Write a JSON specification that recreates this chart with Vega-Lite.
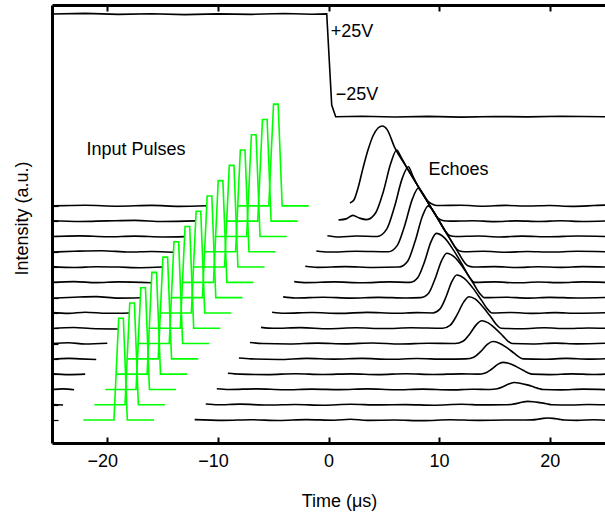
{
  "$schema": "https://vega.github.io/schema/vega-lite/v6.json",
  "width": 553,
  "height": 438,
  "autosize": "none",
  "padding": {"left": 52, "top": 5, "right": 0, "bottom": 70},
  "config": {"view": {"stroke": null}, "font": "Liberation Sans"},
  "datasets": {
    "volt": [
      {"x": -25, "y": 27.54}, {"x": -22, "y": 27.58}, {"x": -19, "y": 27.52}, {"x": -16, "y": 27.56}, {"x": -13, "y": 27.5},
      {"x": -10, "y": 27.55}, {"x": -7, "y": 27.52}, {"x": -4, "y": 27.57}, {"x": -1.5, "y": 27.53}, {"x": -0.16, "y": 27.55},
      {"x": 0.29, "y": 21.59}, {"x": 0.65, "y": 20.83}, {"x": 3, "y": 20.86}, {"x": 6, "y": 20.81}, {"x": 9, "y": 20.85},
      {"x": 12, "y": 20.8}, {"x": 15, "y": 20.84}, {"x": 18, "y": 20.82}, {"x": 21, "y": 20.86}, {"x": 25, "y": 20.83}
    ],
    "black": [
      {"s": "L2", "x": -25, "y": 2.02}, {"s": "L2", "x": -24, "y": 1.98},
      {"s": "L3", "x": -25, "y": 3.0}, {"s": "L3", "x": -24, "y": 3.04}, {"s": "L3", "x": -23, "y": 2.98},
      {"s": "L4", "x": -25, "y": 4.02}, {"s": "L4", "x": -23.5, "y": 3.97}, {"s": "L4", "x": -22, "y": 4.0},
      {"s": "L5", "x": -25, "y": 4.97}, {"s": "L5", "x": -23.5, "y": 5.03}, {"s": "L5", "x": -22.5, "y": 5.0}, {"s": "L5", "x": -21, "y": 4.96},
      {"s": "L6", "x": -25, "y": 6.0}, {"s": "L6", "x": -23.5, "y": 6.05}, {"s": "L6", "x": -22, "y": 5.97}, {"s": "L6", "x": -20, "y": 6.02},
      {"s": "L7", "x": -25, "y": 6.98}, {"s": "L7", "x": -23, "y": 7.05}, {"s": "L7", "x": -21.5, "y": 6.98}, {"s": "L7", "x": -19, "y": 6.95},
      {"s": "L8", "x": -25, "y": 8.02}, {"s": "L8", "x": -23.5, "y": 7.97}, {"s": "L8", "x": -22, "y": 8.05}, {"s": "L8", "x": -20, "y": 7.98}, {"s": "L8", "x": -18, "y": 8.0},
      {"s": "L9", "x": -25, "y": 8.97}, {"s": "L9", "x": -23, "y": 9.03}, {"s": "L9", "x": -21, "y": 9.07}, {"s": "L9", "x": -19, "y": 8.97}, {"s": "L9", "x": -17, "y": 8.99},
      {"s": "L10", "x": -25, "y": 10.0}, {"s": "L10", "x": -23, "y": 10.05}, {"s": "L10", "x": -21, "y": 9.98}, {"s": "L10", "x": -19, "y": 10.03}, {"s": "L10", "x": -16, "y": 9.97},
      {"s": "L11", "x": -25, "y": 11.03}, {"s": "L11", "x": -23, "y": 10.97}, {"s": "L11", "x": -21, "y": 11.02}, {"s": "L11", "x": -19, "y": 11.0}, {"s": "L11", "x": -17, "y": 10.96}, {"s": "L11", "x": -15, "y": 11.0},
      {"s": "L12", "x": -25, "y": 11.98}, {"s": "L12", "x": -23, "y": 12.03}, {"s": "L12", "x": -20.5, "y": 12.07}, {"s": "L12", "x": -18, "y": 11.98}, {"s": "L12", "x": -16, "y": 12.02}, {"s": "L12", "x": -14, "y": 11.97},
      {"s": "L13", "x": -25, "y": 13.0}, {"s": "L13", "x": -22.5, "y": 13.04}, {"s": "L13", "x": -20, "y": 12.98}, {"s": "L13", "x": -17.5, "y": 13.02}, {"s": "L13", "x": -15, "y": 12.97}, {"s": "L13", "x": -13, "y": 12.99},
      {"s": "L14", "x": -25, "y": 14.03}, {"s": "L14", "x": -22.5, "y": 13.98}, {"s": "L14", "x": -20, "y": 14.02}, {"s": "L14", "x": -17.5, "y": 14.05}, {"s": "L14", "x": -15, "y": 13.98}, {"s": "L14", "x": -12, "y": 14.02},
      {"s": "L15", "x": -25, "y": 15.0}, {"s": "L15", "x": -22, "y": 15.04}, {"s": "L15", "x": -19, "y": 14.98}, {"s": "L15", "x": -16, "y": 15.03}, {"s": "L15", "x": -13.5, "y": 14.97}, {"s": "L15", "x": -11, "y": 15.01},

      {"s": "R1", "x": -12.1, "y": 1.03}, {"s": "R1", "x": -9.5, "y": 0.98}, {"s": "R1", "x": -7, "y": 1.02}, {"s": "R1", "x": -4.5, "y": 0.97}, {"s": "R1", "x": -2, "y": 1.03}, {"s": "R1", "x": 0.5, "y": 0.99}, {"s": "R1", "x": 2, "y": 1.05}, {"s": "R1", "x": 3.5, "y": 0.98}, {"s": "R1", "x": 6, "y": 1.0}, {"s": "R1", "x": 8.5, "y": 0.96}, {"s": "R1", "x": 11, "y": 1.02}, {"s": "R1", "x": 13.5, "y": 0.98}, {"s": "R1", "x": 16, "y": 1.0}, {"s": "R1", "x": 17.8, "y": 1.0}, {"s": "R1", "x": 18.4, "y": 1.01}, {"s": "R1", "x": 18.9, "y": 1.05}, {"s": "R1", "x": 19.4, "y": 1.11}, {"s": "R1", "x": 19.8, "y": 1.13}, {"s": "R1", "x": 20.3, "y": 1.11}, {"s": "R1", "x": 20.8, "y": 1.06}, {"s": "R1", "x": 21.3, "y": 1.0}, {"s": "R1", "x": 22.5, "y": 0.98}, {"s": "R1", "x": 24, "y": 1.02}, {"s": "R1", "x": 25, "y": 0.99},

      {"s": "R2", "x": -11.1, "y": 2.05}, {"s": "R2", "x": -10, "y": 2.0}, {"s": "R2", "x": -8, "y": 2.04}, {"s": "R2", "x": -5.5, "y": 1.98}, {"s": "R2", "x": -3, "y": 2.02}, {"s": "R2", "x": -0.5, "y": 1.97}, {"s": "R2", "x": 2, "y": 2.03}, {"s": "R2", "x": 4.5, "y": 1.99}, {"s": "R2", "x": 7, "y": 2.01}, {"s": "R2", "x": 9.5, "y": 1.97}, {"s": "R2", "x": 12, "y": 2.03}, {"s": "R2", "x": 14, "y": 1.99}, {"s": "R2", "x": 15.9, "y": 2.0}, {"s": "R2", "x": 16.53, "y": 2.02}, {"s": "R2", "x": 17.06, "y": 2.09}, {"s": "R2", "x": 17.58, "y": 2.18}, {"s": "R2", "x": 18.0, "y": 2.22}, {"s": "R2", "x": 18.5, "y": 2.2}, {"s": "R2", "x": 19.1, "y": 2.14}, {"s": "R2", "x": 19.7, "y": 2.07}, {"s": "R2", "x": 20.2, "y": 2.0}, {"s": "R2", "x": 22, "y": 1.98}, {"s": "R2", "x": 23.5, "y": 2.02}, {"s": "R2", "x": 25, "y": 2.0},

      {"s": "R3", "x": -10.1, "y": 3.05}, {"s": "R3", "x": -9, "y": 3.0}, {"s": "R3", "x": -6.5, "y": 3.04}, {"s": "R3", "x": -4, "y": 2.98}, {"s": "R3", "x": -1.5, "y": 3.02}, {"s": "R3", "x": 1, "y": 2.99}, {"s": "R3", "x": 3.5, "y": 3.04}, {"s": "R3", "x": 6, "y": 2.98}, {"s": "R3", "x": 8.5, "y": 3.02}, {"s": "R3", "x": 11, "y": 2.97}, {"s": "R3", "x": 13, "y": 3.01}, {"s": "R3", "x": 14.6, "y": 3.0}, {"s": "R3", "x": 15.26, "y": 3.05}, {"s": "R3", "x": 15.81, "y": 3.19}, {"s": "R3", "x": 16.36, "y": 3.37}, {"s": "R3", "x": 16.8, "y": 3.45}, {"s": "R3", "x": 17.32, "y": 3.41}, {"s": "R3", "x": 17.97, "y": 3.3}, {"s": "R3", "x": 18.62, "y": 3.15}, {"s": "R3", "x": 19.06, "y": 3.05}, {"s": "R3", "x": 19.4, "y": 3.0}, {"s": "R3", "x": 21, "y": 2.97}, {"s": "R3", "x": 23, "y": 3.02}, {"s": "R3", "x": 25, "y": 2.99},

      {"s": "R4", "x": -9.1, "y": 4.06}, {"s": "R4", "x": -8, "y": 4.0}, {"s": "R4", "x": -5.5, "y": 3.97}, {"s": "R4", "x": -3, "y": 4.03}, {"s": "R4", "x": -0.5, "y": 3.98}, {"s": "R4", "x": 2, "y": 4.02}, {"s": "R4", "x": 4.5, "y": 3.97}, {"s": "R4", "x": 7, "y": 4.03}, {"s": "R4", "x": 9.5, "y": 3.98}, {"s": "R4", "x": 12, "y": 4.02}, {"s": "R4", "x": 13.5, "y": 4.0}, {"s": "R4", "x": 14.18, "y": 4.08}, {"s": "R4", "x": 14.74, "y": 4.32}, {"s": "R4", "x": 15.3, "y": 4.64}, {"s": "R4", "x": 15.75, "y": 4.77}, {"s": "R4", "x": 16.28, "y": 4.71}, {"s": "R4", "x": 16.94, "y": 4.51}, {"s": "R4", "x": 17.6, "y": 4.25}, {"s": "R4", "x": 18.06, "y": 4.08}, {"s": "R4", "x": 18.4, "y": 4.0}, {"s": "R4", "x": 20, "y": 3.97}, {"s": "R4", "x": 22, "y": 4.02}, {"s": "R4", "x": 24, "y": 3.98}, {"s": "R4", "x": 25, "y": 4.0},

      {"s": "R5", "x": -8.1, "y": 5.06}, {"s": "R5", "x": -7, "y": 5.0}, {"s": "R5", "x": -4.5, "y": 4.96}, {"s": "R5", "x": -2, "y": 5.03}, {"s": "R5", "x": 0.5, "y": 4.98}, {"s": "R5", "x": 3, "y": 5.03}, {"s": "R5", "x": 5.5, "y": 4.97}, {"s": "R5", "x": 8, "y": 5.02}, {"s": "R5", "x": 10.5, "y": 4.98}, {"s": "R5", "x": 12.4, "y": 5.0}, {"s": "R5", "x": 13.14, "y": 5.11}, {"s": "R5", "x": 13.75, "y": 5.47}, {"s": "R5", "x": 14.36, "y": 5.94}, {"s": "R5", "x": 14.85, "y": 6.13}, {"s": "R5", "x": 15.4, "y": 6.04}, {"s": "R5", "x": 16.09, "y": 5.75}, {"s": "R5", "x": 16.78, "y": 5.37}, {"s": "R5", "x": 17.24, "y": 5.11}, {"s": "R5", "x": 17.6, "y": 5.0}, {"s": "R5", "x": 19.5, "y": 4.97}, {"s": "R5", "x": 21.5, "y": 5.03}, {"s": "R5", "x": 23.5, "y": 4.98}, {"s": "R5", "x": 25, "y": 5.01},

      {"s": "R6", "x": -7.1, "y": 6.07}, {"s": "R6", "x": -6, "y": 6.0}, {"s": "R6", "x": -3.5, "y": 5.97}, {"s": "R6", "x": -1, "y": 6.03}, {"s": "R6", "x": 1.5, "y": 5.98}, {"s": "R6", "x": 4, "y": 6.04}, {"s": "R6", "x": 6.5, "y": 5.97}, {"s": "R6", "x": 9, "y": 6.02}, {"s": "R6", "x": 11.44, "y": 6.0}, {"s": "R6", "x": 12.16, "y": 6.15}, {"s": "R6", "x": 12.77, "y": 6.63}, {"s": "R6", "x": 13.37, "y": 7.24}, {"s": "R6", "x": 13.85, "y": 7.49}, {"s": "R6", "x": 14.4, "y": 7.37}, {"s": "R6", "x": 15.09, "y": 6.98}, {"s": "R6", "x": 15.78, "y": 6.49}, {"s": "R6", "x": 16.24, "y": 6.15}, {"s": "R6", "x": 16.6, "y": 6.0}, {"s": "R6", "x": 18.5, "y": 5.97}, {"s": "R6", "x": 20.5, "y": 6.03}, {"s": "R6", "x": 22.5, "y": 5.98}, {"s": "R6", "x": 25, "y": 6.02},

      {"s": "R7", "x": -6.1, "y": 7.06}, {"s": "R7", "x": -5, "y": 7.0}, {"s": "R7", "x": -2.5, "y": 7.04}, {"s": "R7", "x": 0, "y": 6.97}, {"s": "R7", "x": 2.5, "y": 7.03}, {"s": "R7", "x": 5, "y": 6.98}, {"s": "R7", "x": 7.5, "y": 7.03}, {"s": "R7", "x": 10.3, "y": 7.0}, {"s": "R7", "x": 11.02, "y": 7.21}, {"s": "R7", "x": 11.62, "y": 7.87}, {"s": "R7", "x": 12.22, "y": 8.71}, {"s": "R7", "x": 12.7, "y": 9.06}, {"s": "R7", "x": 13.28, "y": 8.9}, {"s": "R7", "x": 14.0, "y": 8.36}, {"s": "R7", "x": 14.73, "y": 7.68}, {"s": "R7", "x": 15.22, "y": 7.21}, {"s": "R7", "x": 15.6, "y": 7.0}, {"s": "R7", "x": 17.5, "y": 6.97}, {"s": "R7", "x": 19.5, "y": 7.03}, {"s": "R7", "x": 21.5, "y": 6.98}, {"s": "R7", "x": 23.5, "y": 7.02}, {"s": "R7", "x": 25, "y": 7.0},

      {"s": "R8", "x": -5.1, "y": 8.05}, {"s": "R8", "x": -4, "y": 7.98}, {"s": "R8", "x": -1.5, "y": 8.03}, {"s": "R8", "x": 1, "y": 7.97}, {"s": "R8", "x": 3.5, "y": 8.04}, {"s": "R8", "x": 6, "y": 7.98}, {"s": "R8", "x": 8, "y": 8.02}, {"s": "R8", "x": 9.42, "y": 8.0}, {"s": "R8", "x": 10.07, "y": 8.25}, {"s": "R8", "x": 10.62, "y": 9.04}, {"s": "R8", "x": 11.16, "y": 10.06}, {"s": "R8", "x": 11.6, "y": 10.48}, {"s": "R8", "x": 12.24, "y": 10.28}, {"s": "R8", "x": 13.04, "y": 9.64}, {"s": "R8", "x": 13.84, "y": 8.82}, {"s": "R8", "x": 14.38, "y": 8.25}, {"s": "R8", "x": 14.8, "y": 8.0}, {"s": "R8", "x": 16.5, "y": 8.03}, {"s": "R8", "x": 18.5, "y": 7.97}, {"s": "R8", "x": 20.5, "y": 8.02}, {"s": "R8", "x": 22.5, "y": 7.98}, {"s": "R8", "x": 25, "y": 8.01},

      {"s": "R9", "x": -4.1, "y": 9.05}, {"s": "R9", "x": -3, "y": 8.98}, {"s": "R9", "x": -0.5, "y": 9.03}, {"s": "R9", "x": 2, "y": 8.97}, {"s": "R9", "x": 4.5, "y": 9.02}, {"s": "R9", "x": 7, "y": 8.98}, {"s": "R9", "x": 8.34, "y": 9.0}, {"s": "R9", "x": 9.05, "y": 9.29}, {"s": "R9", "x": 9.63, "y": 10.22}, {"s": "R9", "x": 10.22, "y": 11.41}, {"s": "R9", "x": 10.69, "y": 11.9}, {"s": "R9", "x": 11.37, "y": 11.67}, {"s": "R9", "x": 12.22, "y": 10.91}, {"s": "R9", "x": 13.08, "y": 9.96}, {"s": "R9", "x": 13.66, "y": 9.29}, {"s": "R9", "x": 14.1, "y": 9.0}, {"s": "R9", "x": 16, "y": 9.03}, {"s": "R9", "x": 18, "y": 8.97}, {"s": "R9", "x": 20, "y": 9.02}, {"s": "R9", "x": 22.5, "y": 8.98}, {"s": "R9", "x": 25, "y": 9.01},

      {"s": "R10", "x": -3.1, "y": 10.05}, {"s": "R10", "x": -2, "y": 9.98}, {"s": "R10", "x": 0.5, "y": 10.03}, {"s": "R10", "x": 3, "y": 9.97}, {"s": "R10", "x": 5.5, "y": 10.03}, {"s": "R10", "x": 7.37, "y": 10.0}, {"s": "R10", "x": 8.08, "y": 10.32}, {"s": "R10", "x": 8.68, "y": 11.34}, {"s": "R10", "x": 9.27, "y": 12.66}, {"s": "R10", "x": 9.75, "y": 13.2}, {"s": "R10", "x": 10.44, "y": 12.94}, {"s": "R10", "x": 11.3, "y": 12.11}, {"s": "R10", "x": 12.17, "y": 11.06}, {"s": "R10", "x": 12.75, "y": 10.32}, {"s": "R10", "x": 13.2, "y": 10.0}, {"s": "R10", "x": 15, "y": 10.03}, {"s": "R10", "x": 17, "y": 9.97}, {"s": "R10", "x": 19, "y": 10.02}, {"s": "R10", "x": 21, "y": 9.98}, {"s": "R10", "x": 23, "y": 10.03}, {"s": "R10", "x": 25, "y": 10.0},

      {"s": "R11", "x": -2.1, "y": 11.05}, {"s": "R11", "x": -1, "y": 10.98}, {"s": "R11", "x": 1.5, "y": 11.03}, {"s": "R11", "x": 4, "y": 10.97}, {"s": "R11", "x": 6.37, "y": 11.0}, {"s": "R11", "x": 7.17, "y": 11.4}, {"s": "R11", "x": 7.83, "y": 12.68}, {"s": "R11", "x": 8.49, "y": 14.32}, {"s": "R11", "x": 9.02, "y": 15.0}, {"s": "R11", "x": 9.4, "y": 14.75}, {"s": "R11", "x": 10, "y": 14.02}, {"s": "R11", "x": 11, "y": 12.83}, {"s": "R11", "x": 11.8, "y": 11.87}, {"s": "R11", "x": 12.25, "y": 11.35}, {"s": "R11", "x": 12.6, "y": 11.08}, {"s": "R11", "x": 13.1, "y": 11.0}, {"s": "R11", "x": 15, "y": 11.03}, {"s": "R11", "x": 17, "y": 10.97}, {"s": "R11", "x": 19, "y": 11.02}, {"s": "R11", "x": 21, "y": 10.98}, {"s": "R11", "x": 23, "y": 11.03}, {"s": "R11", "x": 25, "y": 11.0},

      {"s": "R12", "x": -1.1, "y": 12.05}, {"s": "R12", "x": 0, "y": 11.98}, {"s": "R12", "x": 2.5, "y": 12.03}, {"s": "R12", "x": 5.41, "y": 12.0}, {"s": "R12", "x": 6.22, "y": 12.42}, {"s": "R12", "x": 6.9, "y": 13.74}, {"s": "R12", "x": 7.58, "y": 15.44}, {"s": "R12", "x": 8.12, "y": 16.15}, {"s": "R12", "x": 8.5, "y": 15.85}, {"s": "R12", "x": 9, "y": 15.21}, {"s": "R12", "x": 10, "y": 14.02}, {"s": "R12", "x": 11, "y": 12.83}, {"s": "R12", "x": 11.45, "y": 12.3}, {"s": "R12", "x": 11.8, "y": 12.06}, {"s": "R12", "x": 12.3, "y": 12.0}, {"s": "R12", "x": 14, "y": 12.03}, {"s": "R12", "x": 16, "y": 11.97}, {"s": "R12", "x": 18, "y": 12.02}, {"s": "R12", "x": 20, "y": 11.98}, {"s": "R12", "x": 22.5, "y": 12.03}, {"s": "R12", "x": 25, "y": 12.0},

      {"s": "R13", "x": -0.1, "y": 13.05}, {"s": "R13", "x": 1, "y": 12.97}, {"s": "R13", "x": 2.5, "y": 13.03}, {"s": "R13", "x": 4.41, "y": 13.0}, {"s": "R13", "x": 5.25, "y": 13.46}, {"s": "R13", "x": 5.96, "y": 14.92}, {"s": "R13", "x": 6.66, "y": 16.78}, {"s": "R13", "x": 7.22, "y": 17.56}, {"s": "R13", "x": 7.6, "y": 17.0}, {"s": "R13", "x": 8, "y": 16.4}, {"s": "R13", "x": 9, "y": 15.21}, {"s": "R13", "x": 10, "y": 14.02}, {"s": "R13", "x": 10.6, "y": 13.3}, {"s": "R13", "x": 10.95, "y": 13.06}, {"s": "R13", "x": 11.5, "y": 13.0}, {"s": "R13", "x": 13.5, "y": 13.03}, {"s": "R13", "x": 15.5, "y": 12.97}, {"s": "R13", "x": 17.5, "y": 13.02}, {"s": "R13", "x": 20, "y": 12.98}, {"s": "R13", "x": 22.5, "y": 13.03}, {"s": "R13", "x": 25, "y": 13.0},

      {"s": "R14", "x": 0.9, "y": 14.08}, {"s": "R14", "x": 1.6, "y": 14.15}, {"s": "R14", "x": 2.2, "y": 14.38}, {"s": "R14", "x": 2.8, "y": 14.2}, {"s": "R14", "x": 3.45, "y": 14.1}, {"s": "R14", "x": 4.27, "y": 14.55}, {"s": "R14", "x": 4.95, "y": 15.91}, {"s": "R14", "x": 5.63, "y": 17.78}, {"s": "R14", "x": 6.17, "y": 18.65}, {"s": "R14", "x": 6.55, "y": 18.2}, {"s": "R14", "x": 7, "y": 17.6}, {"s": "R14", "x": 8, "y": 16.4}, {"s": "R14", "x": 9, "y": 15.21}, {"s": "R14", "x": 9.5, "y": 14.61}, {"s": "R14", "x": 9.9, "y": 14.2}, {"s": "R14", "x": 10.4, "y": 14.03}, {"s": "R14", "x": 11, "y": 14.0}, {"s": "R14", "x": 13, "y": 14.03}, {"s": "R14", "x": 15, "y": 13.97}, {"s": "R14", "x": 17, "y": 14.02}, {"s": "R14", "x": 19, "y": 13.98}, {"s": "R14", "x": 21, "y": 14.03}, {"s": "R14", "x": 23, "y": 13.98}, {"s": "R14", "x": 25, "y": 14.01},

      {"s": "R15", "x": 1.94, "y": 15.19}, {"s": "R15", "x": 2.31, "y": 15.4}, {"s": "R15", "x": 2.67, "y": 16.17}, {"s": "R15", "x": 3.12, "y": 17.47}, {"s": "R15", "x": 3.57, "y": 18.65}, {"s": "R15", "x": 4.02, "y": 19.57}, {"s": "R15", "x": 4.48, "y": 20.09}, {"s": "R15", "x": 4.88, "y": 20.22}, {"s": "R15", "x": 5.29, "y": 20.0}, {"s": "R15", "x": 6, "y": 18.79}, {"s": "R15", "x": 7, "y": 17.6}, {"s": "R15", "x": 8, "y": 16.4}, {"s": "R15", "x": 8.6, "y": 15.69}, {"s": "R15", "x": 9.0, "y": 15.3}, {"s": "R15", "x": 9.5, "y": 15.08}, {"s": "R15", "x": 10, "y": 15.02}, {"s": "R15", "x": 12, "y": 15.04}, {"s": "R15", "x": 14, "y": 14.98}, {"s": "R15", "x": 16, "y": 15.03}, {"s": "R15", "x": 18, "y": 14.99}, {"s": "R15", "x": 20, "y": 15.02}, {"s": "R15", "x": 22, "y": 14.97}, {"s": "R15", "x": 24, "y": 15.02}, {"s": "R15", "x": 25, "y": 15.05}
    ],
    "green": [
      {"p": 1, "x": -22.17, "y": 1}, {"p": 1, "x": -19.4, "y": 1}, {"p": 1, "x": -18.97, "y": 7.65}, {"p": 1, "x": -18.55, "y": 7.65}, {"p": 1, "x": -18.19, "y": 1}, {"p": 1, "x": -15.78, "y": 1},
      {"p": 2, "x": -21.17, "y": 2}, {"p": 2, "x": -18.4, "y": 2}, {"p": 2, "x": -17.97, "y": 8.65}, {"p": 2, "x": -17.55, "y": 8.65}, {"p": 2, "x": -17.19, "y": 2}, {"p": 2, "x": -14.78, "y": 2},
      {"p": 3, "x": -20.17, "y": 3}, {"p": 3, "x": -17.4, "y": 3}, {"p": 3, "x": -16.97, "y": 9.65}, {"p": 3, "x": -16.55, "y": 9.65}, {"p": 3, "x": -16.19, "y": 3}, {"p": 3, "x": -13.78, "y": 3},
      {"p": 4, "x": -19.17, "y": 4}, {"p": 4, "x": -16.4, "y": 4}, {"p": 4, "x": -15.97, "y": 10.65}, {"p": 4, "x": -15.55, "y": 10.65}, {"p": 4, "x": -15.19, "y": 4}, {"p": 4, "x": -12.78, "y": 4},
      {"p": 5, "x": -18.17, "y": 5}, {"p": 5, "x": -15.4, "y": 5}, {"p": 5, "x": -14.97, "y": 11.65}, {"p": 5, "x": -14.55, "y": 11.65}, {"p": 5, "x": -14.19, "y": 5}, {"p": 5, "x": -11.78, "y": 5},
      {"p": 6, "x": -17.17, "y": 6}, {"p": 6, "x": -14.4, "y": 6}, {"p": 6, "x": -13.97, "y": 12.65}, {"p": 6, "x": -13.55, "y": 12.65}, {"p": 6, "x": -13.19, "y": 6}, {"p": 6, "x": -10.78, "y": 6},
      {"p": 7, "x": -16.17, "y": 7}, {"p": 7, "x": -13.4, "y": 7}, {"p": 7, "x": -12.97, "y": 13.65}, {"p": 7, "x": -12.55, "y": 13.65}, {"p": 7, "x": -12.19, "y": 7}, {"p": 7, "x": -9.78, "y": 7},
      {"p": 8, "x": -15.17, "y": 8}, {"p": 8, "x": -12.4, "y": 8}, {"p": 8, "x": -11.97, "y": 14.65}, {"p": 8, "x": -11.55, "y": 14.65}, {"p": 8, "x": -11.19, "y": 8}, {"p": 8, "x": -8.78, "y": 8},
      {"p": 9, "x": -14.17, "y": 9}, {"p": 9, "x": -11.4, "y": 9}, {"p": 9, "x": -10.97, "y": 15.65}, {"p": 9, "x": -10.55, "y": 15.65}, {"p": 9, "x": -10.19, "y": 9}, {"p": 9, "x": -7.78, "y": 9},
      {"p": 10, "x": -13.17, "y": 10}, {"p": 10, "x": -10.4, "y": 10}, {"p": 10, "x": -9.97, "y": 16.65}, {"p": 10, "x": -9.55, "y": 16.65}, {"p": 10, "x": -9.19, "y": 10}, {"p": 10, "x": -6.78, "y": 10},
      {"p": 11, "x": -12.17, "y": 11}, {"p": 11, "x": -9.4, "y": 11}, {"p": 11, "x": -8.97, "y": 17.65}, {"p": 11, "x": -8.55, "y": 17.65}, {"p": 11, "x": -8.19, "y": 11}, {"p": 11, "x": -5.78, "y": 11},
      {"p": 12, "x": -11.17, "y": 12}, {"p": 12, "x": -8.4, "y": 12}, {"p": 12, "x": -7.97, "y": 18.65}, {"p": 12, "x": -7.55, "y": 18.65}, {"p": 12, "x": -7.19, "y": 12}, {"p": 12, "x": -4.78, "y": 12},
      {"p": 13, "x": -10.17, "y": 13}, {"p": 13, "x": -7.4, "y": 13}, {"p": 13, "x": -6.97, "y": 19.65}, {"p": 13, "x": -6.55, "y": 19.65}, {"p": 13, "x": -6.19, "y": 13}, {"p": 13, "x": -3.78, "y": 13},
      {"p": 14, "x": -9.17, "y": 14}, {"p": 14, "x": -6.4, "y": 14}, {"p": 14, "x": -5.97, "y": 20.65}, {"p": 14, "x": -5.55, "y": 20.65}, {"p": 14, "x": -5.19, "y": 14}, {"p": 14, "x": -2.78, "y": 14},
      {"p": 15, "x": -8.17, "y": 15}, {"p": 15, "x": -5.4, "y": 15}, {"p": 15, "x": -4.97, "y": 21.65}, {"p": 15, "x": -4.55, "y": 21.65}, {"p": 15, "x": -4.19, "y": 15}, {"p": 15, "x": -1.78, "y": 15}
    ],
    "notes": [
      {"label": "+25V", "x": 0.2, "y": 26.06},
      {"label": "−25V", "x": 0.65, "y": 21.92},
      {"label": "Input Pulses", "x": -21.88, "y": 18.32},
      {"label": "Echoes", "x": 9.04, "y": 17.02}
    ]
  },
  "layer": [
    {
      "data": {"name": "volt"},
      "mark": {"type": "line", "color": "black", "strokeWidth": 1.6, "clip": true},
      "encoding": {
        "x": {
          "field": "x", "type": "quantitative",
          "scale": {"domain": [-25, 25], "nice": false, "zero": false},
          "axis": {
            "orient": "bottom", "values": [-20, -10, 0, 10, 20], "grid": false, "zindex": 1,
            "domainColor": "black", "domainWidth": 3,
            "ticks": true, "tickColor": "black", "tickWidth": 2, "tickSize": -6,
            "labelFontSize": 18, "labelColor": "black", "labelPadding": 15,
            "labelOffset": {"condition": {"test": "datum.value < 0", "value": -5}, "value": 0},
            "title": "Time (μs)", "titleFontSize": 18, "titleFontWeight": "normal", "titleColor": "black",
            "titleX": 287, "titleY": 63, "titleBaseline": "alphabetic", "titleAlign": "center"
          }
        },
        "y": {
          "field": "y", "type": "quantitative",
          "scale": {"domain": [-0.5, 28.13], "nice": false, "zero": false},
          "axis": {
            "orient": "left", "values": [1, 2, 3, 4, 5, 6, 7, 8, 9, 10, 11, 12, 13, 14, 15], "grid": false, "zindex": 1,
            "labels": false, "domainColor": "black", "domainWidth": 3,
            "ticks": true, "tickColor": "black", "tickWidth": 1.2, "tickSize": -6,
            "title": "Intensity (a.u.)", "titleFontSize": 18, "titleFontWeight": "normal", "titleColor": "black",
            "titleAngle": -90, "titleX": -25, "titleY": 213, "titleBaseline": "alphabetic", "titleAlign": "center"
          }
        }
      }
    },
    {
      "data": {"name": "black"},
      "mark": {"type": "line", "color": "black", "strokeWidth": 1.6, "interpolate": "monotone", "clip": true},
      "encoding": {
        "x": {
          "field": "x", "type": "quantitative",
          "axis": {
            "orient": "top", "values": [-20, -10, 0, 10, 20], "grid": false, "labels": false, "title": null, "zindex": 1,
            "domainColor": "black", "domainWidth": 3,
            "ticks": true, "tickColor": "black", "tickWidth": 2, "tickSize": -6
          }
        },
        "y": {"field": "y", "type": "quantitative", "axis": null},
        "detail": {"field": "s", "type": "nominal"}
      }
    },
    {
      "data": {"name": "green"},
      "mark": {"type": "line", "color": "#00ff00", "strokeWidth": 1.6, "clip": true},
      "encoding": {
        "x": {"field": "x", "type": "quantitative", "axis": null},
        "y": {"field": "y", "type": "quantitative", "axis": null},
        "detail": {"field": "p", "type": "nominal"}
      }
    },
    {
      "data": {"name": "notes"},
      "mark": {"type": "text", "align": "left", "baseline": "alphabetic", "fontSize": 18, "color": "black"},
      "encoding": {
        "x": {"field": "x", "type": "quantitative", "axis": null},
        "y": {"field": "y", "type": "quantitative", "axis": null},
        "text": {"field": "label"}
      }
    }
  ],
  "resolve": {"axis": {"x": "independent", "y": "independent"}}
}
